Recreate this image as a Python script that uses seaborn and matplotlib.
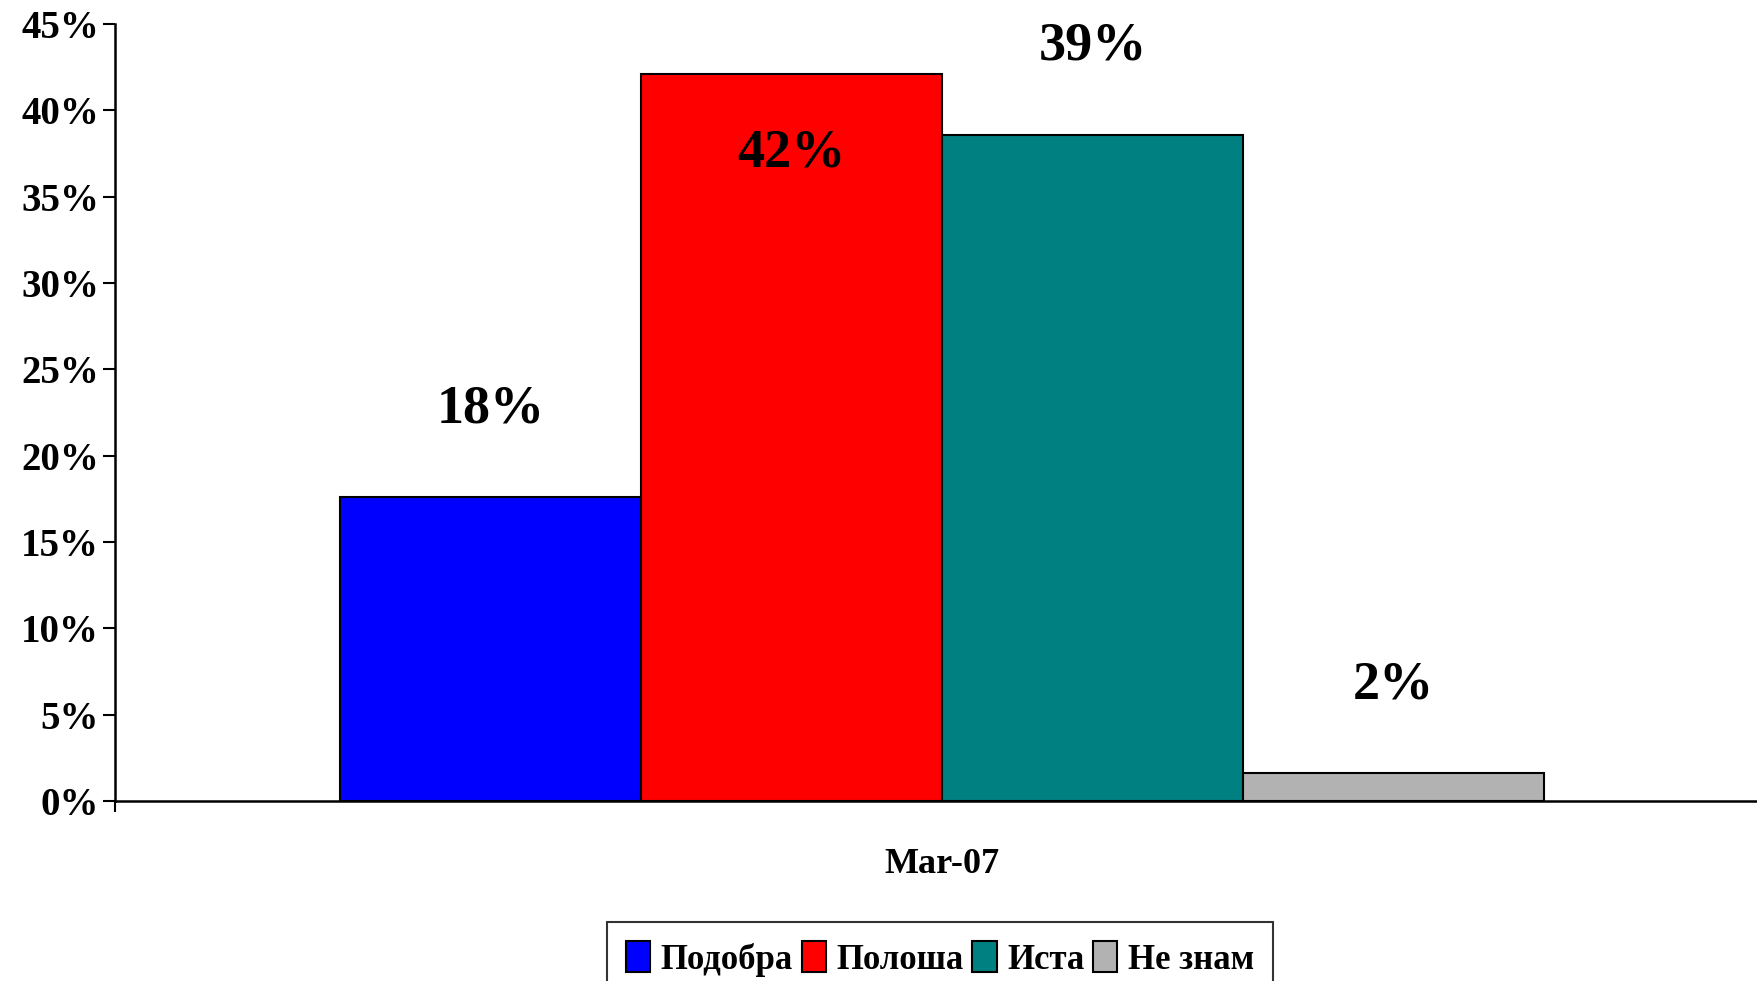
import matplotlib
matplotlib.use("Agg")
import matplotlib.pyplot as plt
import matplotlib.ticker as mticker
import pandas as pd
import seaborn as sns

PERIODS = ["Mar-07"]
ANSWERS = ["Подобра", "Полоша", "Иста", "Не знам"]
VALUES = [0.176, 0.421, 0.386, 0.016]
COLORS = ["#0000FF", "#FF0000", "#008080", "#B2B2B2"]
Y_TICKS = [0.0, 0.05, 0.10, 0.15, 0.20, 0.25, 0.30, 0.35, 0.40, 0.45]


def main():
    sns.set_theme(style="white")
    plt.rcParams["font.family"] = ["Liberation Serif", "DejaVu Serif"]
    plt.rcParams["font.weight"] = "bold"
    for k in ("text.color", "xtick.color", "ytick.color", "axes.labelcolor"):
        plt.rcParams[k] = "black"

    df = pd.DataFrame({"period": PERIODS * len(ANSWERS),
                       "answer": ANSWERS, "value": VALUES})

    fig = plt.figure(figsize=(17.57, 9.81), dpi=100)
    # os x wychodzi troche poza prawa krawedz (jak w oryginale)
    ax = fig.add_axes([0.0655, 0.1835, 0.9415, 0.792])
    sns.barplot(data=df, x="period", y="value", hue="answer",
                palette=dict(zip(ANSWERS, COLORS)), width=0.728,
                edgecolor="black", linewidth=1.5, saturation=1, ax=ax)

    ax.set_xlim(-0.5, 0.5)
    ax.set_ylim(0, 0.45)
    ax.set_yticks(Y_TICKS)
    ax.yaxis.set_major_formatter(mticker.PercentFormatter(1.0, decimals=0))
    ax.tick_params(axis="y", direction="out", length=8.6, width=1.5,
                   labelsize=28, pad=3, left=True, colors="black")
    ax.tick_params(axis="x", length=0, labelsize=26, pad=34, colors="black")
    ax.set_xticks([-0.5], minor=True)
    ax.tick_params(axis="x", which="minor", direction="out", length=8, width=1.5,
                   bottom=True)
    for lab in ax.get_yticklabels() + ax.get_xticklabels():
        lab.set_fontweight("bold")
    ax.set_xlabel("")
    ax.set_ylabel("")
    sns.despine(ax=ax)
    for s in ("left", "bottom"):
        ax.spines[s].set_linewidth(1.8)
        ax.spines[s].set_color("black")

    # etykiety wartosci nad slupkami (jak w Excelu: gdy brak miejsca - do srodka)
    for bar, v in zip(ax.patches, VALUES):
        x = bar.get_x() + bar.get_width() / 2
        y = v + 0.051
        if y > 0.44:
            y = v - 0.046
        ax.text(x, y, f"{round(v * 100)}%", ha="center", va="center",
                fontsize=39, fontweight="bold", color="black")

    sns.move_legend(ax, "upper center", bbox_to_anchor=(0.535, 0.06),
                    bbox_transform=fig.transFigure, ncol=4, title=None,
                    frameon=True, fancybox=False, edgecolor="black",
                    fontsize=25, handlelength=0.7, handleheight=1.0,
                    handletextpad=0.3, columnspacing=0.25, borderpad=0.55,
                    borderaxespad=0)
    leg = ax.get_legend()
    leg.get_frame().set_linewidth(1.5)
    for t in leg.get_texts():
        t.set_fontweight("bold")
        t.set_color("black")

    fig.savefig("out.png", dpi=100)


if __name__ == "__main__":
    main()
